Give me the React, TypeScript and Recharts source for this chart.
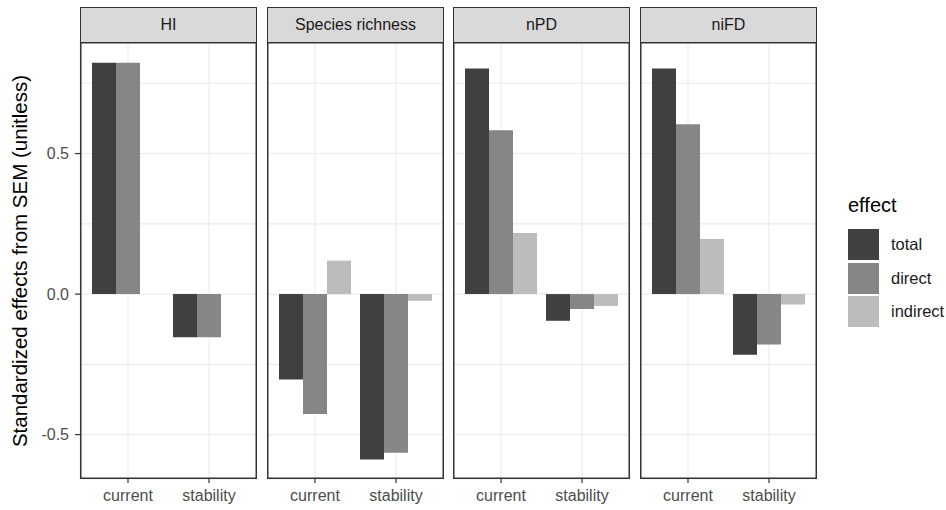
import React from "react";
import { BarChart, Bar, XAxis, YAxis, CartesianGrid } from "recharts";

// facets, categories and the three effect series
const panels = ["HI", "Species richness", "nPD", "niFD"];
const timeframes = ["current", "stability"];
const totalEffect = [
  [0.823, -0.154],
  [-0.304, -0.589],
  [0.803, -0.095],
  [0.803, -0.216],
];
const directEffect = [
  [0.823, -0.154],
  [-0.427, -0.565],
  [0.583, -0.053],
  [0.604, -0.179],
];
const indirectEffect: (number | null)[][] = [
  [null, null],
  [0.119, -0.024],
  [0.217, -0.042],
  [0.196, -0.037],
];
const effects = ["total", "direct", "indirect"];
const effectColors = ["#404040", "#868686", "#bcbcbc"];
const gridTicks = [-0.5, -0.25, 0, 0.25, 0.5, 0.75];
const majorTicks = [-0.5, 0, 0.5];
const yDomain: [number, number] = [-0.658, 0.897];

const FONT = '"Liberation Sans", Arial, Helvetica, sans-serif';

const PANEL_LEFT = 80;
const PANEL_STEP = 186.7;
const PANEL_W = 177;
const PANEL_TOP = 42;
const PANEL_H = 437;
const STRIP_TOP = 7;
const X_AXIS_H = 31;
const Y_AXIS_W = 80;
const TICK_MARGIN = 6;
const TICK_SIZE = 5;

function panelData(p: number) {
  return timeframes.map((t, i) => ({
    timeframe: t,
    total: totalEffect[p][i],
    direct: directEffect[p][i],
    indirect: indirectEffect[p][i],
  }));
}

// y tick: only the major values get a label and a tick mark, minor ones only feed the grid
function YTick(props: any) {
  const { x, y, payload } = props;
  const v = payload.value;
  if (!majorTicks.some((m) => Math.abs(m - v) < 1e-9)) return null;
  return (
    <g>
      <line
        x1={x + TICK_MARGIN}
        x2={x + TICK_MARGIN + TICK_SIZE}
        y1={y}
        y2={y}
        stroke="#333333"
        strokeWidth={1.2}
      />
      <text
        x={x}
        y={y}
        dy="0.35em"
        textAnchor="end"
        fill="#4d4d4d"
        fontSize={16}
        fontFamily={FONT}
      >
        {v.toFixed(1)}
      </text>
    </g>
  );
}

function Panel({ p }: { p: number }) {
  const first = p === 0;
  const left = Math.round(PANEL_LEFT + p * PANEL_STEP);
  const chartLeft = first ? left - Y_AXIS_W : left;
  const chartW = first ? PANEL_W + Y_AXIS_W : PANEL_W;
  return (
    <>
      <div
        style={{
          position: "absolute",
          left,
          top: STRIP_TOP,
          width: PANEL_W,
          height: PANEL_TOP - STRIP_TOP + 1,
          boxSizing: "border-box",
          background: "#d9d9d9",
          border: "1.5px solid #333333",
          display: "flex",
          alignItems: "center",
          justifyContent: "center",
          fontSize: 16,
          color: "#1a1a1a",
          fontFamily: FONT,
        }}
      >
        {panels[p]}
      </div>
      <div style={{ position: "absolute", left: chartLeft, top: PANEL_TOP }}>
        <BarChart
          width={chartW}
          height={PANEL_H + X_AXIS_H}
          data={panelData(p)}
          margin={{ top: 0, right: 0, bottom: 0, left: 0 }}
          barGap={0}
          barCategoryGap={4.5}
        >
          <CartesianGrid stroke="#ebebeb" strokeWidth={1.1} />
          <XAxis
            dataKey="timeframe"
            height={X_AXIS_H}
            padding={{ left: 7.5, right: 7.5 }}
            axisLine={false}
            tickLine={{ stroke: "#333333", strokeWidth: 1.2 }}
            tickSize={4}
            tickMargin={7}
            tick={{ fill: "#4d4d4d", fontSize: 16, fontFamily: FONT }}
          />
          <YAxis
            type="number"
            domain={yDomain}
            allowDataOverflow
            ticks={gridTicks}
            interval={0}
            hide={!first}
            width={Y_AXIS_W}
            axisLine={false}
            tickLine={false}
            tickSize={TICK_SIZE}
            tickMargin={TICK_MARGIN}
            tick={<YTick />}
          />
          {effects.map((e, i) => (
            <Bar
              key={e}
              dataKey={e}
              fill={effectColors[i]}
              isAnimationActive={false}
            />
          ))}
        </BarChart>
      </div>
      <svg
        style={{ position: "absolute", left, top: PANEL_TOP, pointerEvents: "none" }}
        width={PANEL_W}
        height={PANEL_H}
      >
        <rect
          x={0.75}
          y={0.75}
          width={PANEL_W - 1.5}
          height={PANEL_H - 1.5}
          fill="none"
          stroke="#333333"
          strokeWidth={1.5}
        />
      </svg>
    </>
  );
}

export default function App() {
  return (
    <div
      style={{
        position: "absolute",
        left: 0,
        top: 0,
        width: 946,
        height: 510,
        background: "#ffffff",
        fontFamily: FONT,
      }}
    >
      <div
        style={{
          position: "absolute",
          left: 20,
          top: 261,
          transform: "translate(-50%, -50%) rotate(-90deg)",
          whiteSpace: "nowrap",
          fontSize: 20.5,
          color: "#000000",
        }}
      >
        Standardized effects from SEM (unitless)
      </div>
      {panels.map((_, p) => (
        <Panel key={p} p={p} />
      ))}
      <div
        style={{
          position: "absolute",
          left: 848,
          top: 193,
          fontSize: 20,
          color: "#000000",
          lineHeight: "24px",
        }}
      >
        effect
      </div>
      {effects.map((e, i) => (
        <div
          key={e}
          style={{
            position: "absolute",
            left: 848,
            top: 229 + i * 33.5,
            height: 31,
            display: "flex",
            alignItems: "center",
          }}
        >
          <div style={{ width: 31, height: 31, background: effectColors[i] }} />
          <span style={{ marginLeft: 12, fontSize: 16.5, color: "#1a1a1a" }}>{e}</span>
        </div>
      ))}
    </div>
  );
}
